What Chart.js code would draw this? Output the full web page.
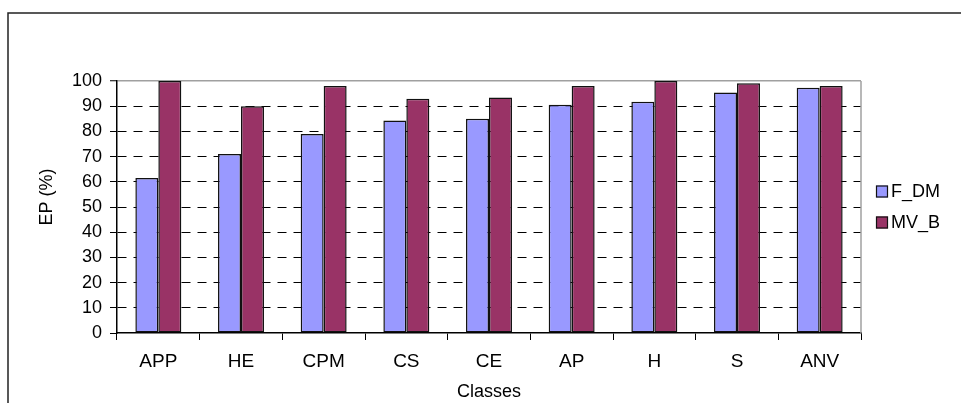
<!DOCTYPE html>
<html>
<head>
<meta charset="utf-8">
<script src="https://cdn.jsdelivr.net/npm/chart.js@4/dist/chart.umd.min.js"></script>
<style>
  html, body { margin: 0; padding: 0; background: #fff; }
  #wrap { position: relative; width: 961px; height: 403px; }
</style>
</head>
<body>
<div id="wrap"><canvas id="c" width="961" height="403"></canvas></div>
<script>
// Classes on the x axis and EP (%) for each method
const categories = ['APP', 'HE', 'CPM', 'CS', 'CE', 'AP', 'H', 'S', 'ANV'];
const seriesNames = ['F_DM', 'MV_B'];
const fdmValues = [61.5, 71, 79, 84.3, 85, 90.6, 91.8, 95.4, 97.3];
const mvbValues = [100, 90, 98, 93, 93.5, 98, 100, 99.1, 98];
const seriesColors = ['#9999FF', '#993366'];
const yTitle = 'EP (%)';

const FONT = '"Liberation Sans", Arial, sans-serif';

// White page with the outer frame (top and left edges)
const framePlugin = {
  id: 'frame',
  beforeDraw(chart) {
    const ctx = chart.ctx;
    ctx.save();
    ctx.fillStyle = '#fff';
    ctx.fillRect(0, 0, chart.width, chart.height);
    ctx.strokeStyle = '#222';
    ctx.lineWidth = 1.5;
    ctx.beginPath();
    ctx.moveTo(8, chart.height);
    ctx.lineTo(8, 13);
    ctx.lineTo(chart.width, 13);
    ctx.stroke();
    ctx.restore();
  }
};

// Grey right edge of the plot area
const plotEdgePlugin = {
  id: 'plotEdge',
  beforeDatasetsDraw(chart) {
    const { ctx, chartArea } = chart;
    ctx.save();
    ctx.strokeStyle = '#a0a0a0';
    ctx.lineWidth = 1.5;
    ctx.beginPath();
    ctx.moveTo(chartArea.right, chartArea.top);
    ctx.lineTo(chartArea.right, chartArea.bottom);
    ctx.stroke();
    ctx.restore();
  }
};

// Rotated y-axis title, sitting a little above the plot's mid-height
const yTitlePlugin = {
  id: 'yTitle',
  afterDraw(chart) {
    const { ctx, chartArea } = chart;
    ctx.save();
    ctx.font = '18px ' + FONT;
    ctx.fillStyle = '#000';
    ctx.textAlign = 'center';
    ctx.textBaseline = 'middle';
    ctx.translate(47, (chartArea.top + chartArea.bottom) / 2 - 10);
    ctx.rotate(-Math.PI / 2);
    ctx.fillText(yTitle, 0, 0);
    ctx.restore();
  }
};

// Legend to the right of the plot, one square swatch per series
const sideLegendPlugin = {
  id: 'sideLegend',
  afterDraw(chart) {
    const { ctx, chartArea } = chart;
    const sets = chart.data.datasets;
    const rowGap = 31;
    const midY = (chartArea.top + chartArea.bottom) / 2;
    const firstY = midY - rowGap * (sets.length - 1) / 2;
    const boxX = chartArea.right + 15;
    ctx.save();
    ctx.font = '18px ' + FONT;
    ctx.textBaseline = 'middle';
    ctx.textAlign = 'left';
    sets.forEach((ds, i) => {
      const y = firstY + i * rowGap;
      ctx.fillStyle = ds.backgroundColor;
      ctx.fillRect(boxX, y - 6, 12, 12);
      ctx.strokeStyle = '#111';
      ctx.lineWidth = 1.2;
      ctx.strokeRect(boxX + 0.5, y - 5.5, 11, 11);
      ctx.fillStyle = '#000';
      ctx.fillText(ds.label, boxX + 15, y + 1);
    });
    ctx.restore();
  }
};

new Chart(document.getElementById('c'), {
  type: 'bar',
  data: {
    labels: categories,
    datasets: [
      {
        label: seriesNames[0],
        data: fdmValues,
        backgroundColor: seriesColors[0],
        borderColor: '#111',
        borderWidth: 1.5,
        borderSkipped: false,
        categoryPercentage: 0.556,
        barPercentage: 1.0
      },
      {
        label: seriesNames[1],
        data: mvbValues,
        backgroundColor: seriesColors[1],
        borderColor: '#111',
        borderWidth: 1.5,
        borderSkipped: false,
        categoryPercentage: 0.556,
        barPercentage: 1.0
      }
    ]
  },
  options: {
    responsive: false,
    animation: false,
    layout: { padding: { left: 0, top: 81, right: 100, bottom: 0 } },
    plugins: {
      legend: { display: false },
      tooltip: { enabled: false },
      title: { display: false }
    },
    scales: {
      x: {
        offset: true,
        afterFit(scale) { scale.height = 70; },
        grid: {
          offset: true,
          drawOnChartArea: false,
          tickLength: 7,
          tickColor: '#000',
          tickWidth: 1
        },
        border: { display: true, color: '#000', width: 1.5 },
        ticks: {
          color: '#000',
          padding: 10,
          font: { family: FONT, size: 19 },
          maxRotation: 0,
          autoSkip: false
        },
        title: {
          display: true,
          text: 'Classes',
          color: '#000',
          font: { family: FONT, size: 18 },
          padding: { top: 0, bottom: 0 }
        }
      },
      y: {
        min: 0,
        max: 100,
        afterFit(scale) { scale.width = 117; },
        ticks: {
          stepSize: 10,
          color: '#000',
          padding: 8,
          font: { family: FONT, size: 18 }
        },
        grid: {
          color(ctx) {
            if (!ctx.tick) return '#000';
            if (ctx.tick.value === 0) return 'rgba(0,0,0,0)';
            if (ctx.tick.value === 100) return '#a0a0a0';
            return '#000';
          },
          lineWidth(ctx) {
            return ctx.tick && ctx.tick.value === 100 ? 1.5 : 1;
          },
          tickLength: 7,
          tickColor: '#000',
          tickWidth: 1
        },
        border: {
          display: true,
          color: '#000',
          width: 1.5,
          dash(ctx) {
            return ctx.tick && ctx.tick.value === 100 ? [] : [9, 7];
          }
        },
        title: { display: false }
      }
    }
  },
  plugins: [framePlugin, plotEdgePlugin, yTitlePlugin, sideLegendPlugin]
});
</script>
</body>
</html>
